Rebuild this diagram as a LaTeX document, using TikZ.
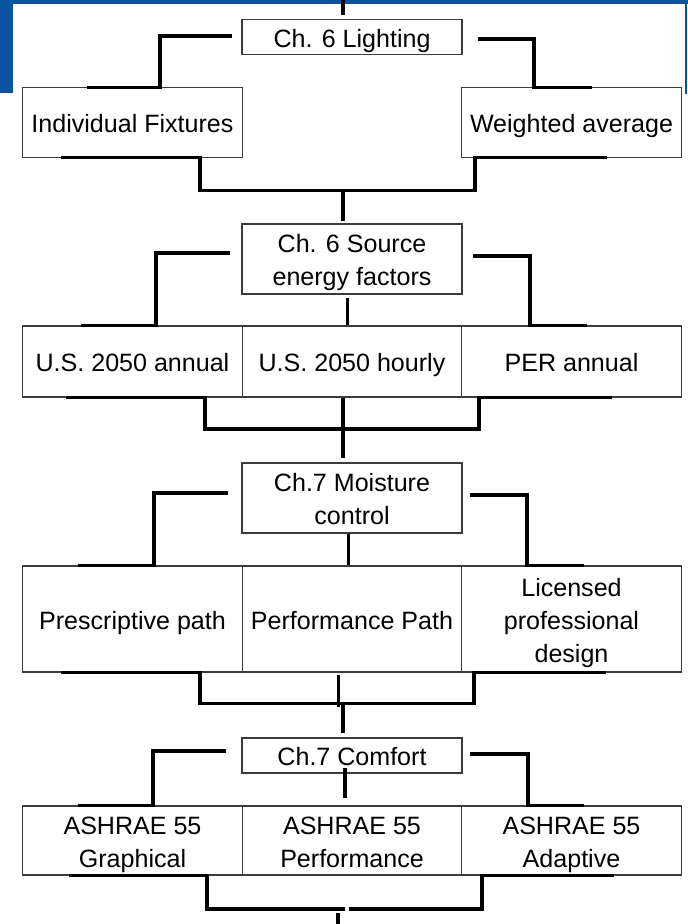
\documentclass[tikz,border=0pt]{standalone}
\usepackage{fontspec}
\setmainfont{Liberation Sans}
\usepackage{tikz}
\definecolor{frameblue}{RGB}{8, 84, 160}
\definecolor{boxgray}{RGB}{60, 60, 60}
\newcommand{\tstrut}{\rule[-4.5pt]{0pt}{24.5pt}}

\begin{document}
\begin{tikzpicture}[x=0.75pt, y=-0.75pt,
  every node/.style={font=\fontsize{18.8}{24.75}\selectfont},
  chbox/.style={rectangle, draw=boxgray, line width=0.8pt, minimum width=165pt, inner sep=0pt, align=center},
  optbox/.style={rectangle, draw=boxgray, line width=0.8pt, minimum width=164.6pt, inner sep=0pt, align=center},
  link/.style={line width=2.4pt, black}]

\useasboundingbox (0,0) rectangle (688,924);

% Slide frame
\fill[frameblue] (0,0) rectangle (688,3.7);
\fill[frameblue] (0,0) rectangle (12.5,93);
\fill[frameblue] (685,0) rectangle (687,94);

% Chapter boxes
\node[chbox, minimum height=26.25pt] at (352,37) (light) {\tstrut Ch. 6 Lighting};
\node[chbox, minimum height=52.5pt] at (352,259) (src) {\tstrut Ch. 6 Source\\\tstrut energy factors};
\node[chbox, minimum height=52.5pt] at (352,498) (moist) {\tstrut Ch.7 Moisture\\\tstrut control};
\node[chbox, minimum height=26.25pt] at (352,755.5) (comf) {\tstrut Ch.7 Comfort};

% Option boxes
\node[optbox, minimum height=52pt] at (132.5,122.5) (fix) {\tstrut Individual Fixtures};
\node[optbox, minimum height=52pt] at (571.5,122.5) (wavg) {\tstrut Weighted average};

\node[optbox, minimum height=53.25pt] at (132.5,361.5) (ann) {\tstrut U.S. 2050 annual};
\node[optbox, minimum height=53.25pt] at (352,361.5) (hrly) {\tstrut U.S. 2050 hourly};
\node[optbox, minimum height=53.25pt] at (571.5,361.5) (per) {\tstrut PER annual};

\node[optbox, minimum height=79.5pt] at (132.5,619) (presc) {\tstrut Prescriptive path};
\node[optbox, minimum height=79.5pt] at (352,619) (perf) {\tstrut Performance Path};
\node[optbox, minimum height=79.5pt] at (571.5,619) (lic) {\tstrut Licensed\\\tstrut professional\\\tstrut design};

\node[optbox, minimum height=51.75pt] at (132.5,840.5) (gra) {\tstrut ASHRAE 55\\\tstrut Graphical};
\node[optbox, minimum height=51.75pt] at (352,840.5) (perfa) {\tstrut ASHRAE 55\\\tstrut Performance};
\node[optbox, minimum height=51.75pt] at (571.5,840.5) (adapt) {\tstrut ASHRAE 55\\\tstrut Adaptive};

% Junctions and free ends
\coordinate (inb) at (343,0);
\coordinate (j1) at (343,190.5);
\coordinate (j2) at (343,429);
\coordinate (j3) at (343,703.5);
\coordinate (j4l) at (345,909);
\coordinate (j4r) at (349,909);
\coordinate (outb) at (338,924);

% Ch. 6 Lighting
\draw[link] (inb) -- ([shift={(-9,-3.5)}]light.north);
\draw[link] ([shift={(-9,-1)}]light.west) -| ([shift={(27.5,0)}]fix.north) -- ([shift={(-45.5,0)}]fix.north);
\draw[link] ([shift={(15,2)}]light.east) -| ([shift={(-37.5,0)}]wavg.north) -- ([shift={(20.5,0)}]wavg.north);
\draw[link] ([shift={(-71.5,0)}]fix.south) -- ([shift={(67.5,0)}]fix.south) |- (j1);
\draw[link] ([shift={(35.5,0)}]wavg.south) -- ([shift={(-96.5,0)}]wavg.south) |- (j1);
\draw[link] (j1) -- ([shift={(-9,-2)}]src.north);

% Ch. 6 Source energy factors
\draw[link] ([shift={(-11,-6)}]src.west) -| ([shift={(23.5,0)}]ann.north) -- ([shift={(-51.5,0)}]ann.north);
\draw[link] ([shift={(-4.5,3)}]src.south) -- ([shift={(-4.5,0)}]hrly.north);
\draw[link] ([shift={(10.5,-3)}]src.east) -| ([shift={(-41.5,0)}]per.north) -- ([shift={(15.5,0)}]per.north);
\draw[link] ([shift={(-66.5,0)}]ann.south) -- ([shift={(72.5,0)}]ann.south) |- (j2);
\draw[link] ([shift={(40.5,0)}]per.south) -- ([shift={(-92.5,0)}]per.south) |- (j2);
\draw[link] ([shift={(-9,0)}]hrly.south) -- ([shift={(-9,-4)}]moist.north);

% Ch.7 Moisture control
\draw[link] ([shift={(-13,-5)}]moist.west) -| ([shift={(21.5,0)}]presc.north) -- ([shift={(-54.5,0)}]presc.north);
\draw[link] ([shift={(-3.5,0)}]moist.south) -- ([shift={(-3.5,0)}]perf.north);
\draw[link] ([shift={(7,-3)}]moist.east) -| ([shift={(-44.5,0)}]lic.north) -- ([shift={(12.5,0)}]lic.north);
\draw[link] ([shift={(-71.5,0)}]presc.south) -- ([shift={(67.5,0)}]presc.south) |- (j3);
\draw[link] ([shift={(34.5,0)}]lic.south) -- ([shift={(-97.5,0)}]lic.south) |- (j3);
\draw[link] ([shift={(-13.5,2)}]perf.south) -- ([shift={(-13.5,34)}]perf.south);
\draw[link] (j3) -- ([shift={(-9,-4)}]comf.north);

% Ch.7 Comfort
\draw[link] ([shift={(-15,-4.5)}]comf.west) -| ([shift={(20.5,0)}]gra.north) -- ([shift={(-54.5,0)}]gra.north);
\draw[link] ([shift={(-7,-6)}]comf.south) -- ([shift={(-7,-7)}]perfa.north);
\draw[link] ([shift={(7,-1.5)}]comf.east) -| ([shift={(-43.5,0)}]adapt.north) -- ([shift={(12.5,0)}]adapt.north);
\draw[link] ([shift={(-63.5,0)}]gra.south) -- ([shift={(74.5,0)}]gra.south) |- (j4l);
\draw[link] ([shift={(42.5,0)}]adapt.south) -- ([shift={(-89.5,0)}]adapt.south) |- (j4r);
\draw[link] ([shift={(-14,37)}]perfa.south) -- (outb);
\end{tikzpicture}
\end{document}
